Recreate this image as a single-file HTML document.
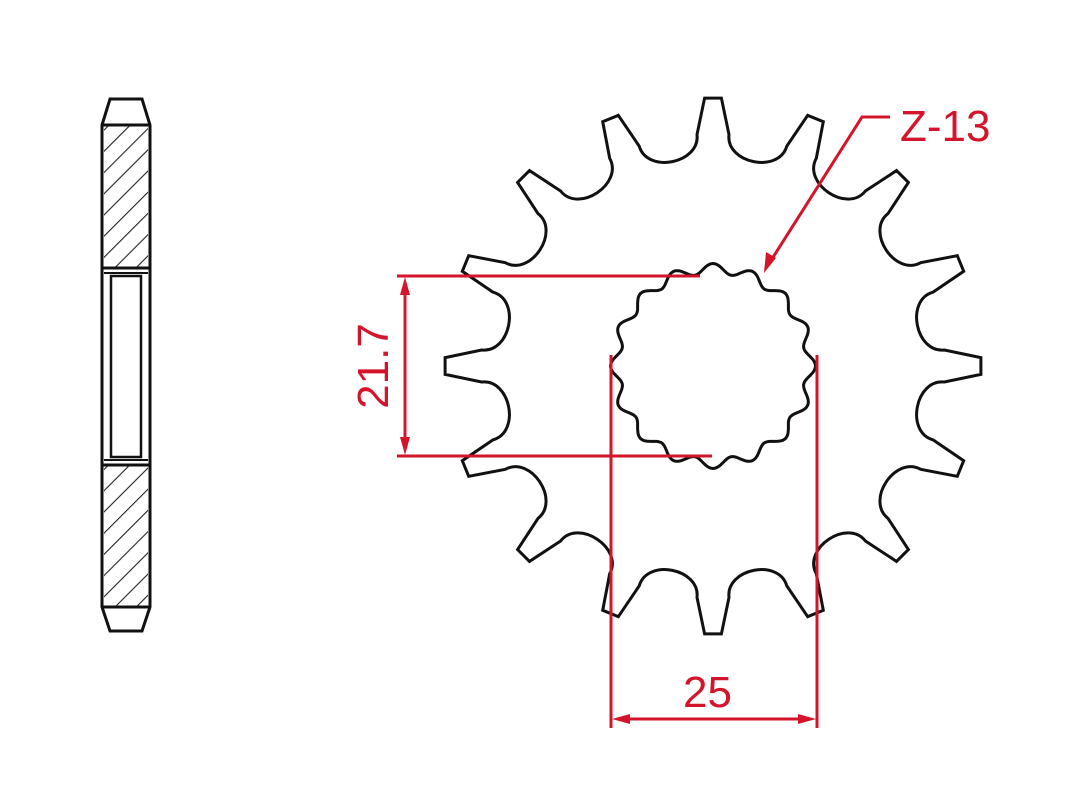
<!DOCTYPE html>
<html><head><meta charset="utf-8"><style>
html,body{margin:0;padding:0;background:#fff;}
svg{display:block}
text{font-family:"Liberation Sans",sans-serif;fill:#d4142a;font-size:44px}
</style></head><body>
<svg id="s" width="1073" height="800" viewBox="0 0 1073 800">
<defs>
<pattern id="h" width="15" height="15" patternUnits="userSpaceOnUse" patternTransform="rotate(45)">
<line x1="0" y1="0" x2="0" y2="15" stroke="#222" stroke-width="2.2"/>
</pattern>
</defs>
<g stroke="#111" stroke-width="3" fill="none">
<path d="M102,125 L110,99 L142,99 L150,125 L150,607 L142,631 L110,631 L102,607 Z" fill="#fff"/>
<rect x="104" y="125" width="44" height="143" fill="url(#h)" stroke="none"/>
<rect x="104" y="465" width="44" height="142" fill="url(#h)" stroke="none"/>
<line x1="102" y1="125" x2="150" y2="125"/>
<line x1="102" y1="607" x2="150" y2="607"/>
<line x1="102" y1="268" x2="150" y2="268"/>
<line x1="102" y1="465" x2="150" y2="465"/>
<line x1="104" y1="273" x2="148" y2="273" stroke-width="2"/>
<line x1="104" y1="460" x2="148" y2="460" stroke-width="2"/>
<rect x="111" y="276" width="30" height="181" stroke-width="2.5"/>
</g>
<path id="outer" fill="none" stroke="#111" stroke-width="3"/>
<path id="inner" fill="none" stroke="#111" stroke-width="3"/>
<g stroke="#d4142a" stroke-width="3" fill="none">
<line x1="397" y1="276" x2="700" y2="276"/>
<line x1="397" y1="456" x2="712" y2="456"/>
<line x1="405" y1="282" x2="405" y2="450"/>
<line x1="611" y1="355" x2="611" y2="728"/>
<line x1="817" y1="355" x2="817" y2="728"/>
<line x1="617" y1="719" x2="811" y2="719"/>
<polyline points="890,117 862,117 770,262"/>
</g>
<g fill="#d4142a">
<polygon points="405,277 400,295 410,295"/>
<polygon points="405,455 400,437 410,437"/>
<polygon points="612,719 630,714 630,724"/>
<polygon points="816,719 798,714 798,724"/>
<polygon points="764,273 766,252 776,258"/>
</g>
<text x="900" y="141">Z-13</text>
<text x="683" y="707">25</text>
<text transform="translate(388,366) rotate(-90)" text-anchor="middle">21.7</text>
</svg>
<script>
(function(){
var cx=713,cy=366,N=16,R=268,Rr=232,P=2*Math.PI/N,d="";
function pt(r,a){return (cx+r*Math.sin(a)).toFixed(1)+","+(cy-r*Math.cos(a)).toFixed(1);}
var D=Math.PI/180,ta=1.8*D,ga=7.3*D;
for(var i=0;i<N;i++){
 var t=i*P,g=t+P/2;
 d+=(i==0?"M":"L")+pt(R,t-ta)+" L"+pt(R,t+ta)+" L"+pt(Rr,g-ga)+" C"+pt(203,g-ga*1.05)+" "+pt(203,g+ga*1.05)+" "+pt(Rr,g+ga)+" ";
}
document.getElementById("outer").setAttribute("d",d+"Z");
var e="";
for(var k=0;k<=400;k++){var a=k/400*2*Math.PI;var r=97.5+5*Math.cos(16*a);e+=(k?"L":"M")+pt(r,a)+" ";}
document.getElementById("inner").setAttribute("d",e+"Z");
})();
</script>
</body></html>
